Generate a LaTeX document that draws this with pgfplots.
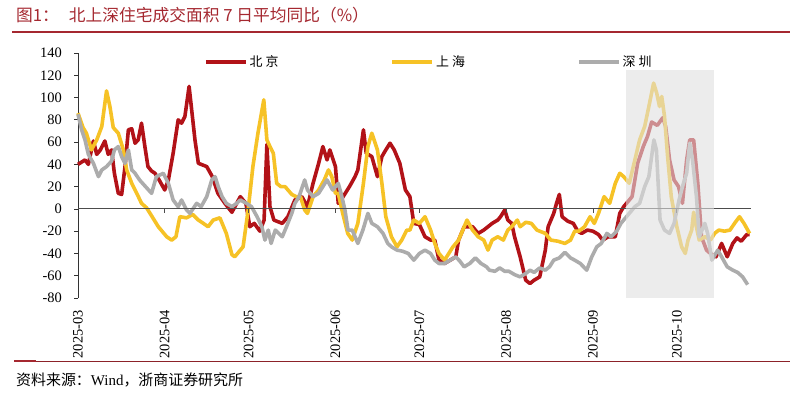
\documentclass[border=0pt]{standalone}
\usepackage{pgfplots}
\pgfplotsset{compat=1.18}
\usepackage{fontspec}
\setmainfont{Liberation Serif}
\newfontfamily\cjk{Noto Sans CJK SC}
\definecolor{bj}{RGB}{178,18,24}
\definecolor{sh}{RGB}{246,194,38}
\definecolor{sz}{RGB}{172,172,172}
\definecolor{tred}{RGB}{165,40,48}

\pgfplotstableread{
d v
0 40
2.5 44
3.7 40
5.5 61
6.7 49
8 53
9.6 61
10.8 49
12 53
13 32
14.4 14
15.6 13
16.8 38
18 71
19.2 72
20.4 59
21.5 62
22.7 77
23.9 56
25 38
26.3 34
27.5 32
29 26
31 17
32.3 26
34 50
35.8 80
37 77
38.2 83
39.7 110
41.8 62
43 41
46 38
48 29
50 14
52.5 5
55 -3
58 11
60 5
61.4 -16
63 -13
65 -20
66.5 -10
67.5 58
68.6 2
70 -10
73 -13
75 -7
77.5 8
80 11
82 2
84 23
86 41
87.5 56
89 44
90 53
92 38
93 5
94 8
95.5 14
97 20
99 29
100 35
102 71
103 50
105 47
107 29
108.6 47
110 53
111.5 59
113 53
115 41
117 17
118.6 11
120 -13
122 -14
124 -25
126 -28
127.5 -28
129 -46
131 -49
133 -46
135 -43
136 -28
138 -16
141 -16
143 -22
145 -19
146.5 -16
148 -13
150 -10
151 -7
152.5 -1
153.6 -10
155 -13
156 -25
158 -43
160 -64
161.5 -67
163 -64
165 -61
167 -37
168 -16
170 -4
171 5
172 13
173 -7
175 -11
177 -13
178.6 -20
180 -22
182 -19
184 -20
186 -23
187.5 -28
189.5 -25
192 -25
193.6 -4
195 2
198 11
200 41
202 56
203.5 65
205 78
207 75
209 82
210 74
211.4 44
213 26
214.6 20
216 5
217.5 44
218.6 62
220 62
221.5 23
222.8 -25
224.6 -37
226 -40
228 -43
230 -31
232 -43
234 -31
235.5 -26
237 -29
239 -23
240 -23
}\bjdata

\pgfplotstableread{
d v
0 86
1.8 73
3 68
4.8 53
6.7 62
8.5 74
10.2 106
11.4 92
12.6 73
14.4 68
16.2 53
17.4 35
19.2 23
21 14
22.7 5
24.5 1
26 -5
28.7 -16
31.7 -25
33.5 -28
35 -25
36.4 -7
38.8 -8
41 -5
43 -10
44.8 -13
46.5 -16
48.3 -10
50.7 -8
53 -22
55 -41
56 -43
57 -40
59 -34
60.8 -1
62.5 38
64.3 68
66.4 98
67.5 62
68.6 56
69.8 50
71 23
72.5 20
74 20
76.4 13
78 11
79.5 11
81 -1
82 -4
84 11
86 17
88 26
89.5 35
90.7 29
92 14
93 14
94.6 -4
96.4 -22
98 -28
100 -13
102 23
103.6 56
105 68
107 53
108.6 23
110 -7
112 -25
114 -34
115.7 -28
117.5 -19
118.6 -19
120 -10
122 -13
124 -7
126 -19
127.5 -31
129 -40
131 -46
132.5 -40
134 -34
136 -28
137.5 -19
139 -10
141 -19
143 -25
145 -28
146.5 -37
148 -28
150 -25
152 -28
153.6 -19
155 -16
157 -10
158 -16
160 -12
162 -13
164 -19
167 -22
169 -28
171.5 -29
174 -31
176 -28
177.5 -20
179 -20
181 -16
183 -7
184.5 -13
186 -4
188 11
190 5
192 23
193.6 32
195 29
197 23
199 44
200.7 62
202.5 74
204 92
205.7 113
206.8 104
207.8 92
208.6 101
209.6 83
210.7 47
212 11
214 -16
215.7 -34
217 -40
218 -28
219.3 -19
220 -3
220.7 -13
222 -28
224 -25
226 -28
227.5 -22
229 -19
231 -20
233 -19
234.6 -13
236.4 -7
238 -13
240 -22
}\shdata

\pgfplotstableread{
d v
0 85
1.3 71
2.5 62
3.7 49
5.5 41
7.3 29
8.5 35
10.2 38
12 43
13 53
14.4 56
15.6 47
16.8 41
18 53
19.2 35
20.4 32
22 26
24.5 19
26.3 14
28 29
30.5 32
32.3 23
34 8
35.8 2
37 8
38.8 -1
40 -4
42.4 5
44 2
46 11
47.8 26
49 29
50.1 20
51.5 11
53 5
55 2
56.7 5
58 8
60.2 5
62 2
64 -7
65.7 -16
66.8 -28
68 -19
69 -31
70.5 -19
73 -25
74.5 -16
76.4 -4
77.5 5
79 11
81 26
82 17
84 11
86 14
87.5 20
89 26
91 17
93 23
94 14
95.4 -1
96.5 -19
98 -19
100 -31
101.8 -19
103.6 -4
105 -13
107 -16
109 -22
110.7 -31
112 -34
114 -37
116 -38
118 -40
120 -46
122 -40
124 -37
126 -40
127.5 -46
129 -49
131 -49
133 -46
135 -43
136.5 -47
138 -52
140 -49
142 -44
144 -49
146 -52
147 -55
149 -56
150.7 -53
152.5 -56
154 -56
156 -59
158 -61
160 -58
161.5 -55
163 -57
165 -53
167 -55
168.5 -52
170 -46
172 -44
174 -39
176 -44
177.5 -46
179.5 -49
181.8 -55
183.6 -43
185.4 -34
187 -31
189 -22
190.5 -25
192.5 -20
194 -13
196 -7
197 -4
199 2
200.7 5
202.5 20
204 29
205.8 62
206.7 53
208 -10
209.6 -19
211.4 -22
213 -13
214.8 8
216 20
217.5 32
218.6 59
219.6 44
221 11
222 -25
224 -13
225 -22
226.5 -46
228.6 -37
230 -43
232 -52
234 -55
235.7 -57
237.5 -61
239.3 -68
}\szdata

\begin{document}
\begin{tikzpicture}
\path[use as bounding box] (0bp,0bp) rectangle (800bp,-399bp);
\node[anchor=west, text=tred, font=\cjk\fontsize{16.8}{18}\selectfont, inner sep=0pt] at (16bp,-15bp) {图1：\hspace{10bp}北上深住宅成交面积 7 日平均同比（\%）};
\draw[tred, line width=2.5bp] (12bp,-32bp) -- (790bp,-32bp);
\draw[tred!85!black, line width=0.8bp] (14bp,-361bp) -- (790bp,-361bp);
\draw[tred, line width=2.5bp] (14bp,-361bp) -- (36bp,-361bp);
\node[anchor=west, font=\fontsize{15}{17}\selectfont, inner sep=0pt] at (16bp,-380bp) {{\cjk 资料来源：}Wind{\cjk ，浙商证券研究所}};

\begin{axis}[at={(78bp,-298bp)}, anchor=south west, scale only axis,
  width=673bp, height=245bp,
  xmin=0, xmax=240.5, ymin=-80, ymax=140,
  axis y line*=left, axis x line*=bottom,
  x axis line style={draw=none},
  y axis line style={draw=black!80, line width=0.8bp},
  ytick={-80,-60,...,140},
  xtick={0,31,61,92,122,153,184,214},
  xticklabels={2025-03,2025-04,2025-05,2025-06,2025-07,2025-08,2025-09,2025-10},
  xtick style={draw=none},
  ytick style={draw=black!80, line width=0.8bp},
  tick align=outside, major tick length=4bp,
  /pgf/number format/assume math mode=true,
  ticklabel style={font=\fontsize{14.5}{16}\selectfont},
  xticklabel style={rotate=90, anchor=east, inner sep=0pt},
  xticklabel shift=8bp,
  yticklabel style={inner sep=0pt, xshift=-12bp},
  legend style={at={(rel axis cs:0.187,0.963)}, anchor=west, draw=none, fill=none,
    inner sep=0pt, font=\cjk\fontsize{13}{15}\selectfont,
    /tikz/every even column/.append style={column sep=110bp}},
  legend columns=3,
  legend image code/.code={\draw[#1] (0bp,0bp) -- (40bp,0bp);},
  every axis plot/.append style={line width=3.6bp, line join=round},
  clip=false,
]
\addplot[bj] table[x=d,y=v] {\bjdata};
\addlegendentry{北\hspace{3bp}京}
\addplot[sh] table[x=d,y=v] {\shdata};
\addlegendentry{上\hspace{3bp}海}
\addplot[sz] table[x=d,y=v] {\szdata};
\addlegendentry{深\hspace{3bp}圳}
\addplot[black!70, line width=0.9bp, forget plot] coordinates {(0,0) (240.5,0)};
\pgfplotsinvokeforeach{31,61,92,122,153,184,214}{
  \draw[black!70, line width=0.8bp] (axis cs:#1,0) -- (axis cs:#1,-4);
}
\fill[black!12, opacity=0.6] (axis cs:196,-80) rectangle (axis cs:227.2,125);
\end{axis}
\end{tikzpicture}
\end{document}
